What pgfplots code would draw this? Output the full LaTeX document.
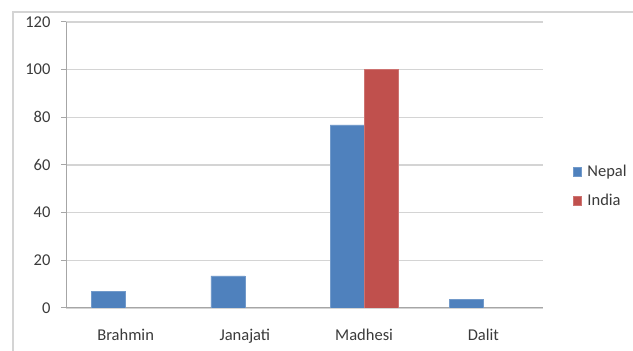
\documentclass[border=0pt]{standalone}
\usepackage{fontspec}
\setmainfont{Carlito}
\usepackage{pgfplots}
\pgfplotsset{compat=1.18}
\definecolor{nepal}{HTML}{4F81BD}
\definecolor{india}{HTML}{C0504D}
\definecolor{gridc}{HTML}{D4D4D4}
\definecolor{axc}{HTML}{A6A6A6}
\definecolor{txt}{HTML}{3A3A3A}
\begin{document}
\begin{tikzpicture}
\useasboundingbox (0pt,0pt) rectangle (633pt,351pt);
\draw[color=gridc, line width=2pt] (13pt,0pt) -- (13pt,339pt) -- (633pt,339pt);
\begin{axis}[
  at={(66pt,43pt)}, anchor=south west,
  scale only axis, width=477pt, height=286pt,
  ybar=0pt, bar width=34pt,
  xmin=0.5, xmax=4.5, ymin=0, ymax=120,
  xtick={1,2,3,4},
  xticklabels={Brahmin,Janajati,Madhesi,Dalit},
  extra x ticks={0.5,1.5,2.5,3.5,4.5},
  extra x tick labels={},
  extra x tick style={major tick length=6pt, tick style={draw=axc, line width=1pt}, tickpos=left, tick align=outside, grid=none},
  ytick={0,20,40,60,80,100,120},
  major x tick style={draw=none},
  major y tick style={draw=axc, line width=1pt},
  tick align=outside, tickpos=left,
  major tick length=5pt,
  ymajorgrids, grid style={draw=gridc, line width=1.6pt},
  axis x line*=bottom, axis y line*=left,
  axis line style={draw=axc, line width=1pt, -},
  /pgf/number format/assume math mode=true,
  tick label style={font=\fontsize{16.5}{19}\selectfont, text=txt},
  xticklabel style={yshift=-13pt},
  yticklabel style={xshift=-7pt},
  legend style={at={(1.063,0.425)}, anchor=west, draw=none, fill=none,
    font=\fontsize{16.5}{19}\selectfont, text=txt, row sep=12pt,
    legend cell align=left, inner xsep=0pt},
  legend image code/.code={\fill[#1] (0pt,-4.5pt) rectangle (8pt,4.5pt); \path[draw=none,fill=none] (0pt,0pt) -- (12pt,0pt);},
]
\addplot[fill=nepal, draw=nepal!80!white] coordinates {(1,7.0) (2,13.5) (3,76.8) (4,3.6)};
\addplot[fill=india, draw=india!80!white] coordinates {(3,100)};
\legend{Nepal,India}
\end{axis}
\end{tikzpicture}
\end{document}
